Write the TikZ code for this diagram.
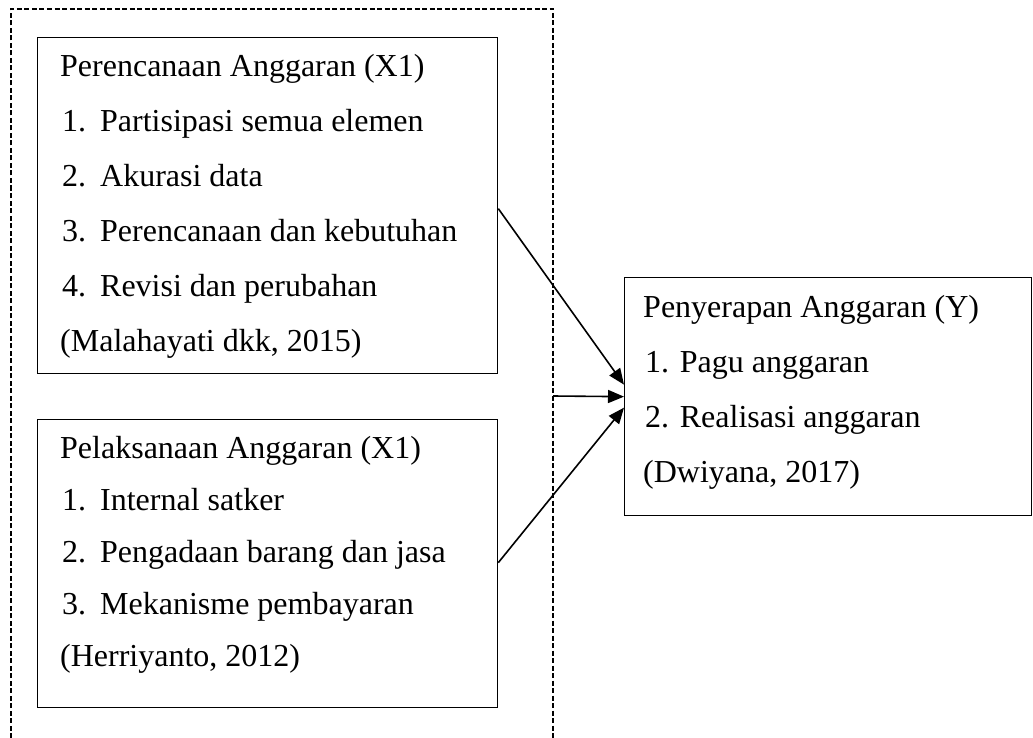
\documentclass[tikz,border=0pt]{standalone}
\usepackage{fontspec}
\setmainfont{Liberation Serif}
\usetikzlibrary{arrows.meta, calc}
\tikzset{
  box/.style={
    draw,
    rectangle,
    line width=1.3pt,
    inner sep=0pt,
    anchor=north west
  },
  line/.style={
    anchor=base west,
    inner sep=0pt,
    font=\fontsize{32}{38}\selectfont
  },
  arrow/.style={
    -{Triangle[length=16pt,width=13pt]},line width=1.6pt}
}
\newcommand{\itemno}[1]{\makebox[38pt][l]{#1}}

\begin{document}
\begin{tikzpicture}[x=1pt, y=-1pt]
\useasboundingbox (0,0) rectangle (1033,738);

%% ---- dashed frame round X1 / X2 ----
\draw[dash pattern=on 5pt off 2.5pt, line width=1.4pt]
  (11,738) -- (11,9) -- (553,9) -- (553,738);
\coordinate (frameout) at (553,396);

%% ---- Perencanaan box ----
\node[box, minimum width=460pt, minimum height=336pt] (plan) at (37,37) {};
\node[line] (plan0) at (60,77)  {Perencanaan Anggaran (X1)};
\node[line] (plan1) at (62,132) {\itemno{1.}Partisipasi semua elemen};
\node[line] (plan2) at (62,187) {\itemno{2.}Akurasi data};
\node[line] (plan3) at (62,241) {\itemno{3.}Perencanaan dan kebutuhan};
\node[line] (plan4) at (62,296) {\itemno{4.}Revisi dan perubahan};
\node[line] (plan5) at (60,351) {(Malahayati dkk, 2015)};

%% ---- Pelaksanaan box ----
\node[box, minimum width=460pt, minimum height=288pt] (exec) at (37,419) {};
\node[line] (exec0) at (60,458) {Pelaksanaan Anggaran (X1)};
\node[line] (exec1) at (62,510) {\itemno{1.}Internal satker};
\node[line] (exec2) at (62,562) {\itemno{2.}Pengadaan barang dan jasa};
\node[line] (exec3) at (62,614) {\itemno{3.}Mekanisme pembayaran};
\node[line] (exec4) at (60,666) {(Herriyanto, 2012)};

%% ---- Penyerapan box ----
\node[box, minimum width=407pt, minimum height=238pt] (absorb) at (624,277) {};
\node[line] (absorb0) at (643,317) {Penyerapan Anggaran (Y)};
\node[line] (absorb1) at (645,372) {1. Pagu anggaran};
\node[line] (absorb2) at (645,427) {2. Realisasi anggaran};
\node[line] (absorb3) at (643,482) {(Dwiyana, 2017)};

%% ---- arrows ----
\draw[arrow] ([yshift=-3pt]plan.east) -- ([yshift=12pt]absorb.west);
\draw[arrow] (frameout) -- (absorb.west);
\draw[arrow] ([yshift=1pt]exec.east) -- ([yshift=-11pt]absorb.west);

\end{tikzpicture}
\end{document}
